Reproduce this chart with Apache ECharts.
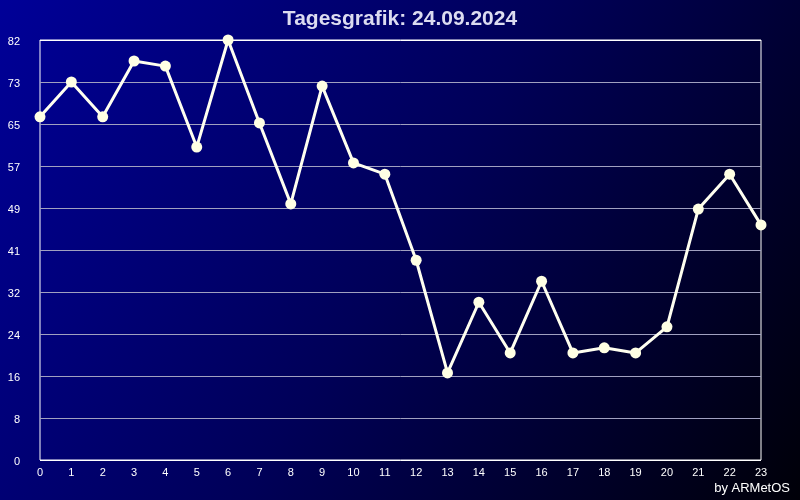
<!DOCTYPE html>
<html>
<head>
<meta charset="utf-8">
<script src="https://cdn.jsdelivr.net/npm/echarts@6/dist/echarts.min.js"></script>
<style>html,body{margin:0;padding:0;background:#000;}#c{width:800px;height:500px;}</style>
</head>
<body>
<div id="c"></div>
<script>
var hours = ['0','1','2','3','4','5','6','7','8','9','10','11','12','13','14','15','16','17','18','19','20','21','22','23'];
var values = [67.0, 73.8, 67.0, 77.9, 76.9, 61.1, 82.0, 65.8, 50.0, 73.0, 58.0, 55.8, 39.0, 17.0, 30.8, 20.9, 34.9, 20.9, 21.9, 20.9, 26.0, 49.0, 55.8, 45.9];
var yTickLabels = ['0','8','16','24','32','41','49','57','65','73','82'];
var titleText = 'Tagesgrafik: 24.09.2024';
var creditText = 'by ARMetOS';

var splitColors = yTickLabels.map(function (_, i) {
  return (i === 0 || i === yTickLabels.length - 1) ? '#ffffff' : '#a0a0c0';
});

var chart = echarts.init(document.getElementById('c'));
chart.setOption({
  animation: false,
  backgroundColor: {
    type: 'linear', x: 0, y: 0, x2: 1, y2: 1,
    colorStops: [{offset: 0, color: '#000098'}, {offset: 0.5, color: '#000058'}, {offset: 1, color: '#000008'}]
  },
  title: {
    text: titleText, left: 'center', top: 4,
    textStyle: {color: '#dcdcf0', fontFamily: 'Liberation Sans', fontWeight: 'bold', fontSize: 21}
  },
  graphic: [{
    type: 'text', right: 10, bottom: 5,
    style: {text: creditText, fill: '#ffffff', font: '13px "Liberation Sans"'}
  }],
  grid: {left: 40, right: 39, top: 40, bottom: 40, show: true, borderColor: '#ffffff', borderWidth: 1, backgroundColor: 'transparent'},
  xAxis: {
    type: 'category', data: hours, boundaryGap: false,
    axisLine: {show: false}, axisTick: {show: false},
    axisLabel: {color: '#ffffff', fontFamily: 'Liberation Sans', fontSize: 11, margin: 7, interval: 0}
  },
  yAxis: {
    type: 'value', min: 0, max: 82, interval: 8.2,
    axisLine: {show: false}, axisTick: {show: false},
    axisLabel: {
      color: '#ffffff', fontFamily: 'Liberation Sans', fontSize: 11, margin: 20,
      verticalAlign: 'top', lineHeight: 4,
      formatter: function (v) { return yTickLabels[Math.round(v / 8.2)]; }
    },
    splitLine: {show: true, lineStyle: {color: splitColors, width: 1}}
  },
  series: [{
    type: 'line', data: values,
    lineStyle: {color: '#fffff0', width: 3},
    itemStyle: {color: '#ffffe4'},
    symbol: 'circle', symbolSize: 11, showSymbol: true
  }]
});
</script>
</body>
</html>
